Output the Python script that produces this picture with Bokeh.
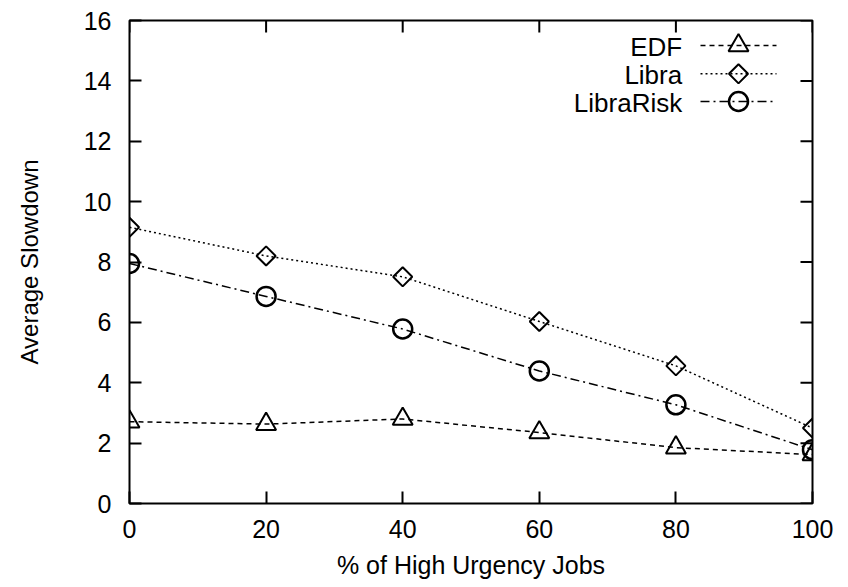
import math
from bokeh.plotting import figure
from bokeh.models import Range1d, FixedTicker, Label
from bokeh.embed import file_html
from bokeh.resources import INLINE

# ---- data ----
urgency = [0, 20, 40, 60, 80, 100]
edf = [2.71, 2.63, 2.80, 2.35, 1.85, 1.62]
libra = [9.15, 8.20, 7.51, 6.03, 4.56, 2.50]
librarisk = [7.95, 6.86, 5.78, 4.39, 3.27, 1.78]
series_names = ["EDF", "Libra", "LibraRisk"]
x_ticks = [0, 20, 40, 60, 80, 100]
y_ticks = [0, 2, 4, 6, 8, 10, 12, 14, 16]

FONT = "Liberation Sans"

# ---- layout (pixels) ----
W, H = 840, 587
BL, BR, BT, BB = 129, 28, 20, 84
FW, FH = W - BL - BR, H - BT - BB
TICK = 12

p = figure(width=W, height=H, x_range=Range1d(0, 100), y_range=Range1d(0, 16),
           output_backend="svg", toolbar_location=None,
           min_border_left=BL, min_border_right=BR, min_border_top=BT, min_border_bottom=BB)
p.background_fill_color = "white"
p.border_fill_color = "white"
p.outline_line_color = "black"
p.outline_line_width = 2
p.xgrid.visible = False
p.ygrid.visible = False

# pixel ranges of the frame, used for mirror ticks and the legend keys
p.extra_x_ranges = {"px": Range1d(0, FW)}
p.extra_y_ranges = {"py": Range1d(0, FH)}

xa = p.xaxis[0]
ya = p.yaxis[0]
xa.ticker = FixedTicker(ticks=x_ticks)
ya.ticker = FixedTicker(ticks=y_ticks)
for ax in (xa, ya):
    ax.axis_line_color = None
    ax.major_tick_in = TICK
    ax.major_tick_out = 0
    ax.major_tick_line_width = 2
    ax.major_tick_line_color = "black"
    ax.minor_tick_line_color = None
    ax.major_label_text_font = FONT
    ax.major_label_text_font_size = "25px"
    ax.major_label_text_color = "black"
    ax.axis_label_text_font = FONT
    ax.axis_label_text_font_style = "normal"
    ax.axis_label_text_color = "black"
xa.major_label_standoff = 16
ya.major_label_standoff = 18
xa.axis_label = "% of High Urgency Jobs"
ya.axis_label = "Average Slowdown"
xa.axis_label_text_font_size = "25px"
ya.axis_label_text_font_size = "24px"
xa.axis_label_standoff = 10
ya.axis_label_standoff = 38

# mirror ticks on the top and right edges
p.segment(x0=x_ticks, x1=x_ticks, y0=[FH] * len(x_ticks), y1=[FH - TICK] * len(x_ticks),
          y_range_name="py", line_color="black", line_width=2)
p.segment(x0=[FW] * len(y_ticks), x1=[FW - TICK] * len(y_ticks), y0=y_ticks, y1=y_ticks,
          x_range_name="px", line_color="black", line_width=2)

# ---- series ----
styles = [
    dict(dash="5 4", marker="triangle", size=20, angle=0.0, mlw=2),
    dict(dash="2 3", marker="square", size=13.5, angle=math.pi / 4, mlw=2),
    dict(dash="9 4 2 4", marker="circle", size=19, angle=0.0, mlw=2.5),
]
for vals, st in zip([edf, libra, librarisk], styles):
    p.line(urgency, vals, line_color="black", line_width=1.5, line_dash=st["dash"])
    p.scatter(urgency, vals, marker=st["marker"], size=st["size"], angle=st["angle"],
              line_color="black", line_width=st["mlw"], fill_alpha=0)

# ---- legend: text on the left, key on the right (frame pixel coordinates) ----
LEG_TEXT_X = 552.7
LEG_KEY_X0, LEG_KEY_X1 = 571, 647
LEG_ROWS_Y = [458, 429.7, 402]
for name, st, ry in zip(series_names, styles, LEG_ROWS_Y):
    p.add_layout(Label(x=LEG_TEXT_X, y=ry - 1.5, x_units="screen", y_units="screen", text=name,
                       text_align="right", text_baseline="middle",
                       text_font=FONT, text_font_size="26px", text_color="black"))
    p.line([LEG_KEY_X0, LEG_KEY_X1], [ry, ry], x_range_name="px", y_range_name="py",
           line_color="black", line_width=1.5, line_dash=st["dash"])
    p.scatter([(LEG_KEY_X0 + LEG_KEY_X1) / 2], [ry], x_range_name="px", y_range_name="py",
              marker=st["marker"], size=st["size"], angle=st["angle"],
              line_color="black", line_width=st["mlw"], fill_alpha=0)

open("out.html", "w").write(file_html(p, INLINE))
